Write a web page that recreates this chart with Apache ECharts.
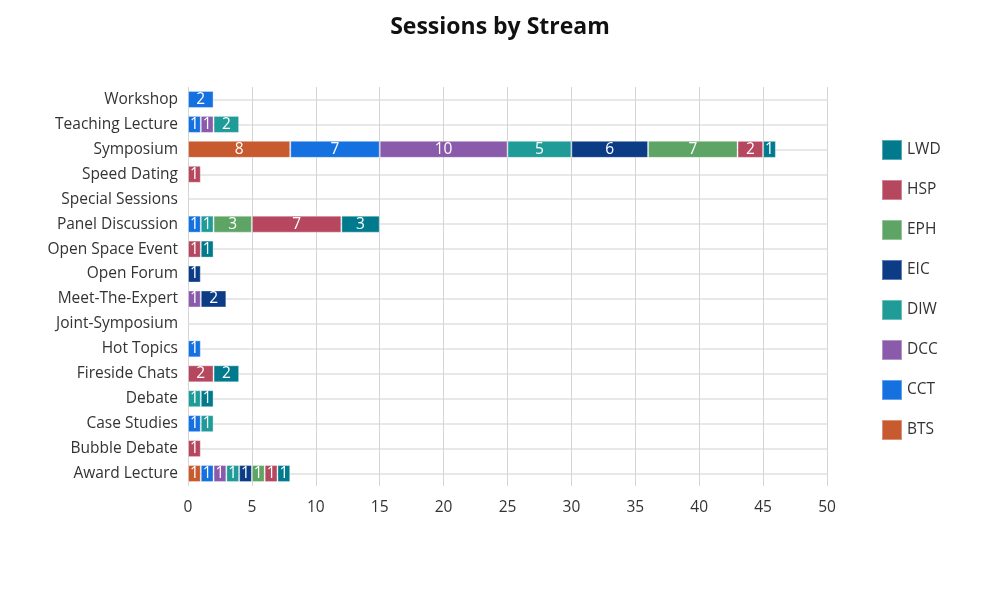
<!DOCTYPE html>
<html><head><meta charset="utf-8">
<script src="https://cdn.jsdelivr.net/npm/echarts@6/dist/echarts.min.js"></script>
<style>html,body{margin:0;padding:0;background:#fff}#c{width:1000px;height:600px}</style>
</head><body><div id="c"></div>
<script>
const categories = ['Award Lecture','Bubble Debate','Case Studies','Debate','Fireside Chats','Hot Topics','Joint-Symposium','Meet-The-Expert','Open Forum','Open Space Event','Panel Discussion','Special Sessions','Speed Dating','Symposium','Teaching Lecture','Workshop'];
const streams = ['BTS','CCT','DCC','DIW','EIC','EPH','HSP','LWD'];
const colors = ['#c85a30','#1570e0','#8a5bab','#1f9b98','#0d3c87','#5ea465','#b5475f','#007a8c'];
const BTS = [1,null,null,null,null,null,null,null,null,null,null,null,null,8,null,null];
const CCT = [1,null,1,null,null,1,null,null,null,null,1,null,null,7,1,2];
const DCC = [1,null,null,null,null,null,null,1,null,null,null,null,null,10,1,null];
const DIW = [1,null,1,1,null,null,null,null,null,null,1,null,null,5,2,null];
const EIC = [1,null,null,null,null,null,null,2,1,null,null,null,null,6,null,null];
const EPH = [1,null,null,null,null,null,null,null,null,null,3,null,null,7,null,null];
const HSP = [1,1,null,null,2,null,null,null,null,1,7,null,1,2,null,null];
const LWD = [1,null,null,1,2,null,null,null,null,1,3,null,null,1,null,null];
const seriesData = [BTS,CCT,DCC,DIW,EIC,EPH,HSP,LWD];
const xTicks = {min:0,max:50,interval:5};

const chart = echarts.init(document.getElementById('c'));
chart.setOption({
  textStyle:{fontFamily:'Open Sans'},
  title:{text:'Sessions by Stream',left:'center',top:11,textStyle:{fontFamily:'Open Sans',fontWeight:'bold',fontSize:23,color:'#111'}},
  legend:{orient:'vertical',left:876,top:134,itemWidth:20,itemHeight:20,itemGap:18,
    data:streams.slice().reverse(),icon:'rect',textStyle:{fontSize:15.5,color:'#333'}},
  grid:{left:188,right:173,top:87,bottom:114},
  xAxis:{type:'value',min:xTicks.min,max:xTicks.max,interval:xTicks.interval,
    axisLine:{show:false},axisTick:{show:false},
    axisLabel:{fontSize:15.5,color:'#333',margin:14},
    splitLine:{lineStyle:{color:'#d5d5d5',width:1}}},
  yAxis:{type:'category',data:categories,
    axisLine:{show:false},axisTick:{show:false,alignWithLabel:true},
    axisLabel:{fontSize:15.5,color:'#333',margin:10,interval:0},
    splitLine:{show:true,alignWithLabel:true,interval:0,lineStyle:{color:'#e8e8e8',width:2}}},
  series:streams.map((s,i)=>({
    name:s,type:'bar',stack:'total',data:seriesData[i],barWidth:17,
    itemStyle:{color:colors[i],borderColor:'rgba(255,255,255,0.35)',borderWidth:1},
    label:{show:true,position:'inside',color:'#fff',fontSize:15.5}
  }))
});
</script></body></html>
